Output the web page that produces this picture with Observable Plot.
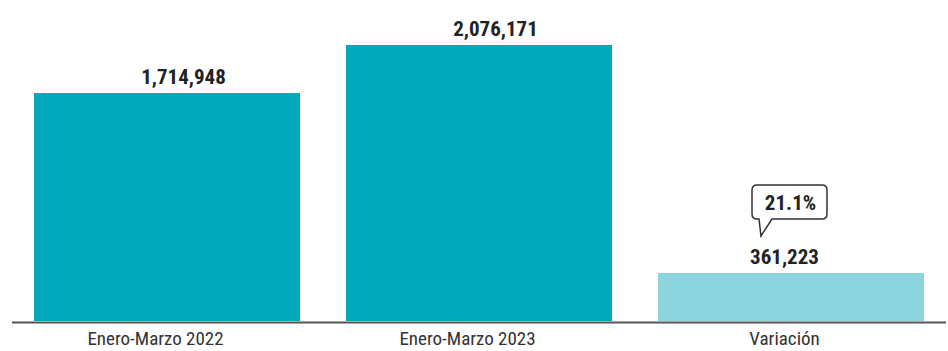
<!DOCTYPE html>
<html>
<head>
<meta charset="utf-8">
<script src="https://cdn.jsdelivr.net/npm/d3@7"></script>
<script src="https://cdn.jsdelivr.net/npm/@observablehq/plot@0.6"></script>
<style>
  html, body { margin: 0; padding: 0; background: #fff; }
  #chart svg { display: block; }
</style>
</head>
<body>
<div id="chart"></div>
<script>
// Categories and values (January–March totals and their difference)
const categories = ["Enero-Marzo 2022", "Enero-Marzo 2023", "Variación"];
const values = [1714948, 2076171, 361223];
const barColors = ["#02a9bc", "#02a9bc", "#8cd5df"];
const variationPct = 21.1;

const rows = categories.map((c, i) => ({category: c, value: values[i], color: barColors[i]}));
const fmt = d3.format(",");

// Horizontal nudges for the value labels and category labels
const valueShift = [16, 16, -7];
const tickShift = [-12, -12, -7];

const labelFont = "'Liberation Sans Narrow', 'Roboto Condensed', Roboto, sans-serif";

// Speech-bubble callout above the variation bar
function bubble(index, scales) {
  const ns = "http://www.w3.org/2000/svg";
  const g = document.createElementNS(ns, "g");
  const cx = scales.x(categories[2]) + scales.x.bandwidth() / 2 - 1;
  const top = scales.y(values[2]);
  const x0 = cx - 38, x1 = cx + 37, y0 = top - 88, y1 = top - 54, r = 5;
  const tailL = cx - 31, tailR = cx - 18, tipX = cx - 29, tipY = top - 37;
  const d = [
    `M${x0 + r},${y0}`, `H${x1 - r}`, `Q${x1},${y0} ${x1},${y0 + r}`,
    `V${y1 - r}`, `Q${x1},${y1} ${x1 - r},${y1}`,
    `H${tailR}`, `L${tipX},${tipY}`, `L${tailL},${y1}`,
    `H${x0 + r}`, `Q${x0},${y1} ${x0},${y1 - r}`,
    `V${y0 + r}`, `Q${x0},${y0} ${x0 + r},${y0}`, "Z"
  ].join(" ");
  const path = document.createElementNS(ns, "path");
  path.setAttribute("d", d);
  path.setAttribute("fill", "#fff");
  path.setAttribute("stroke", "#333");
  path.setAttribute("stroke-width", "1.5");
  g.appendChild(path);
  const t = document.createElementNS(ns, "text");
  t.setAttribute("x", cx + 0.5);
  t.setAttribute("y", (y0 + y1) / 2);
  t.setAttribute("dy", "0.36em");
  t.setAttribute("text-anchor", "middle");
  t.setAttribute("font-family", labelFont);
  t.setAttribute("font-weight", "700");
  t.setAttribute("font-size", "21");
  t.setAttribute("fill", "#222");
  t.textContent = `${variationPct}%`;
  g.appendChild(t);
  return g;
}

const valueLabels = rows.map((r, i) =>
  Plot.text([r], {
    x: "category", y: "value", text: d => fmt(d.value),
    dx: valueShift[i], dy: -16, fontSize: 21, fontWeight: 700,
    fontFamily: labelFont, fill: "#222"
  })
);

const tickLabels = categories.map((c, i) =>
  Plot.axisX([c], {
    tickSize: 0, tickPadding: 10, fontSize: 19, color: "#333",
    fontFamily: labelFont, dx: tickShift[i], label: null
  })
);

const chart = Plot.plot({
  width: 948,
  height: 351,
  marginLeft: 12,
  marginRight: 2,
  marginTop: 45,
  marginBottom: 30,
  style: {fontFamily: labelFont, background: "#fff"},
  x: {domain: categories, paddingInner: 0.1472, paddingOuter: 0.0672, label: null, axis: null},
  y: {domain: [0, d3.max(values)], axis: null},
  marks: [
    Plot.barY(rows, {x: "category", y: "value", fill: "color"}),
    Plot.ruleY([0], {stroke: "#555", strokeWidth: 2, dy: 1}),
    ...valueLabels,
    ...tickLabels,
    bubble
  ]
});

document.getElementById("chart").appendChild(chart);
</script>
</body>
</html>
